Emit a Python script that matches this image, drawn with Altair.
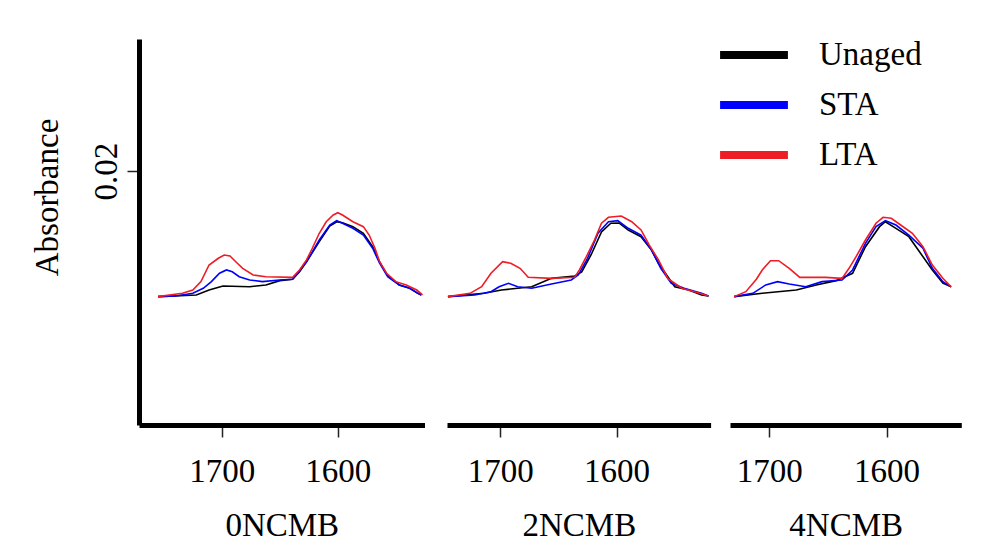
import altair as alt
import pandas as pd

PANELS = ["0NCMB", "2NCMB", "4NCMB"]
SERIES = ["Unaged", "STA", "LTA"]
COLORS = ["#000000", "#0000ff", "#ee1c25"]
X_TICKS = [1700, 1600]
Y_TICKS = [0.02]
Y_DOMAIN = [0.0, 0.0304]

# ---- 0NCMB ----
P0_UNAGED_WN = [1755, 1722, 1711, 1699, 1676, 1662, 1650, 1639, 1633, 1627, 1616, 1607, 1601, 1596, 1587, 1578, 1570, 1564, 1557, 1547, 1538, 1531, 1528]
P0_UNAGED_AB = [0.01011, 0.01024, 0.01063, 0.01095, 0.01089, 0.01103, 0.01137, 0.01148, 0.01207, 0.01286, 0.01444, 0.01567, 0.01601, 0.01593, 0.01562, 0.01510, 0.01404, 0.01284, 0.01174, 0.01103, 0.01077, 0.01037, 0.01024]
P0_STA_WN = [1755, 1740, 1725, 1716, 1709, 1702, 1696, 1691, 1685, 1676, 1665, 1650, 1639, 1627, 1616, 1607, 1601, 1596, 1587, 1578, 1570, 1564, 1557, 1547, 1538, 1531, 1528]
P0_STA_AB = [0.01011, 0.01016, 0.01037, 0.01077, 0.01129, 0.01195, 0.01221, 0.01207, 0.01168, 0.01142, 0.01129, 0.01142, 0.01148, 0.01286, 0.01457, 0.01575, 0.01609, 0.01589, 0.01549, 0.01496, 0.01392, 0.01274, 0.01168, 0.01103, 0.01077, 0.01037, 0.01024]
P0_LTA_WN = [1755, 1734, 1725, 1718, 1711, 1703, 1698, 1693, 1688, 1682, 1673, 1662, 1639, 1633, 1627, 1622, 1616, 1610, 1604, 1600, 1596, 1587, 1578, 1573, 1568, 1564, 1558, 1550, 1541, 1532, 1527]
P0_LTA_AB = [0.01011, 0.01037, 0.01063, 0.01129, 0.01260, 0.01313, 0.01339, 0.01331, 0.01286, 0.01234, 0.01181, 0.01168, 0.01163, 0.01221, 0.01300, 0.01392, 0.01510, 0.01601, 0.01654, 0.01672, 0.01654, 0.01601, 0.01562, 0.01496, 0.01392, 0.01286, 0.01195, 0.01129, 0.01103, 0.01063, 0.01024]

# ---- 2NCMB ----
P2_UNAGED_WN = [1745, 1714, 1699, 1685, 1673, 1656, 1636, 1630, 1622, 1613, 1605, 1598, 1590, 1579, 1570, 1564, 1550, 1538, 1527, 1521]
P2_UNAGED_AB = [0.01011, 0.01037, 0.01063, 0.01077, 0.01089, 0.01155, 0.01174, 0.01205, 0.01339, 0.01520, 0.01589, 0.01591, 0.01536, 0.01483, 0.01378, 0.01274, 0.01089, 0.01063, 0.01024, 0.01016]
P2_STA_WN = [1745, 1722, 1708, 1701, 1693, 1685, 1673, 1656, 1639, 1633, 1625, 1616, 1607, 1599, 1590, 1579, 1570, 1562, 1553, 1542, 1527, 1521]
P2_STA_AB = [0.01011, 0.01024, 0.01050, 0.01089, 0.01116, 0.01089, 0.01077, 0.01111, 0.01142, 0.01181, 0.01313, 0.01510, 0.01601, 0.01609, 0.01549, 0.01496, 0.01378, 0.01234, 0.01116, 0.01077, 0.01037, 0.01016]
P2_LTA_WN = [1745, 1726, 1716, 1708, 1698, 1691, 1683, 1676, 1656, 1636, 1632, 1626, 1619, 1613, 1607, 1596, 1587, 1579, 1572, 1564, 1556, 1544, 1533, 1521]
P2_LTA_AB = [0.01011, 0.01037, 0.01089, 0.01195, 0.01286, 0.01274, 0.01234, 0.01163, 0.01155, 0.01163, 0.01221, 0.01326, 0.01457, 0.01589, 0.01636, 0.01646, 0.01601, 0.01536, 0.01418, 0.01300, 0.01155, 0.01077, 0.01050, 0.01016]

# ---- 4NCMB ----
P4_UNAGED_WN = [1730, 1706, 1677, 1660, 1643, 1629, 1618, 1606, 1601, 1592, 1581, 1561, 1552, 1545]
P4_UNAGED_AB = [0.01011, 0.01037, 0.01063, 0.01103, 0.01137, 0.01195, 0.01404, 0.01562, 0.01601, 0.01549, 0.01483, 0.01221, 0.01118, 0.01089]
P4_STA_WN = [1730, 1714, 1703, 1693, 1683, 1669, 1655, 1638, 1629, 1618, 1609, 1601, 1592, 1581, 1569, 1561, 1552, 1545]
P4_STA_AB = [0.01011, 0.01037, 0.01103, 0.01129, 0.01111, 0.01089, 0.01129, 0.01142, 0.01221, 0.01431, 0.01562, 0.01609, 0.01575, 0.01496, 0.01392, 0.01234, 0.01129, 0.01089]
P4_LTA_WN = [1730, 1720, 1711, 1706, 1699, 1692, 1683, 1674, 1652, 1638, 1632, 1626, 1618, 1609, 1603, 1596, 1588, 1578, 1569, 1561, 1552, 1545]
P4_LTA_AB = [0.01011, 0.01050, 0.01148, 0.01221, 0.01294, 0.01294, 0.01234, 0.01163, 0.01163, 0.01155, 0.01234, 0.01326, 0.01457, 0.01589, 0.01636, 0.01628, 0.01575, 0.01510, 0.01404, 0.01260, 0.01155, 0.01089]

# wavenumber range shown in each panel (axis is reversed)
X_RANGES = [[1525.3, 1771.4], [1519.2, 1745.8], [1536.3, 1733.5]]
PANEL_WIDTHS = [285.5, 263.6, 231.3]

PANEL_DATA = [
    [(P0_UNAGED_WN, P0_UNAGED_AB), (P0_STA_WN, P0_STA_AB), (P0_LTA_WN, P0_LTA_AB)],
    [(P2_UNAGED_WN, P2_UNAGED_AB), (P2_STA_WN, P2_STA_AB), (P2_LTA_WN, P2_LTA_AB)],
    [(P4_UNAGED_WN, P4_UNAGED_AB), (P4_STA_WN, P4_STA_AB), (P4_LTA_WN, P4_LTA_AB)],
]

FONT = "Liberation Serif"
FS = 33
PLOT_H = 386


def make_panel(i):
    rows = []
    for s, (wn, ab) in zip(SERIES, PANEL_DATA[i]):
        for w, a in zip(wn, ab):
            rows.append({"wn": w, "abs": a, "series": s})
    df = pd.DataFrame(rows)
    lo, hi = X_RANGES[i]
    if i == 0:
        yaxis = alt.Axis(
            values=Y_TICKS, format=".2f", title="Absorbance", grid=False,
            domainWidth=5, domainColor="black", tickSize=12, tickWidth=1.5,
            tickColor="#222222", labelAngle=270, labelAlign="center",
            labelBaseline="alphabetic", labelPadding=11, labelFont=FONT,
            labelFontSize=FS, labelColor="black", titleFont=FONT,
            titleFontSize=FS, titleFontWeight="normal", titleColor="black",
            titleAngle=270, titleAlign="center", titleBaseline="middle",
            titleX=-91.5, titleY=158,
        )
    else:
        yaxis = None
    xaxis = alt.Axis(
        values=X_TICKS, format="d", title=PANELS[i], grid=False,
        domainWidth=5, domainColor="black", tickSize=12, tickWidth=1.5,
        tickColor="#222222", labelPadding=18, labelFont=FONT, labelFontSize=FS,
        labelColor="black", titleFont=FONT, titleFontSize=FS,
        titleFontWeight="normal", titleColor="black", titlePadding=21,
        labelOverlap=False, labelFlush=False,
    )
    return alt.Chart(df).mark_line(strokeWidth=1.6).encode(
        x=alt.X("wn:Q", scale=alt.Scale(domain=[lo, hi], reverse=True, nice=False, zero=False), axis=xaxis),
        y=alt.Y("abs:Q", scale=alt.Scale(domain=Y_DOMAIN, nice=False, zero=False), axis=yaxis),
        color=alt.Color(
            "series:N",
            scale=alt.Scale(domain=SERIES, range=COLORS),
            legend=alt.Legend(
                title=None, orient="none", legendX=577, legendY=-4,
                symbolType="stroke", symbolSize=4600, symbolStrokeWidth=8,
                labelFont=FONT, labelFontSize=FS, labelColor="black",
                labelOffset=27, clipHeight=40, rowPadding=10,
            ),
        ),
        order=alt.Order("wn:Q"),
    ).properties(width=PANEL_WIDTHS[i], height=PLOT_H)


chart = alt.hconcat(
    make_panel(0), make_panel(1), make_panel(2), spacing=18
).resolve_scale(x="independent").properties(
    padding={"left": 31, "top": 35, "right": 5, "bottom": 5},
    background="white",
).configure_view(stroke=None)

chart.save("out.html", embed_options={"renderer": "svg", "actions": False})
